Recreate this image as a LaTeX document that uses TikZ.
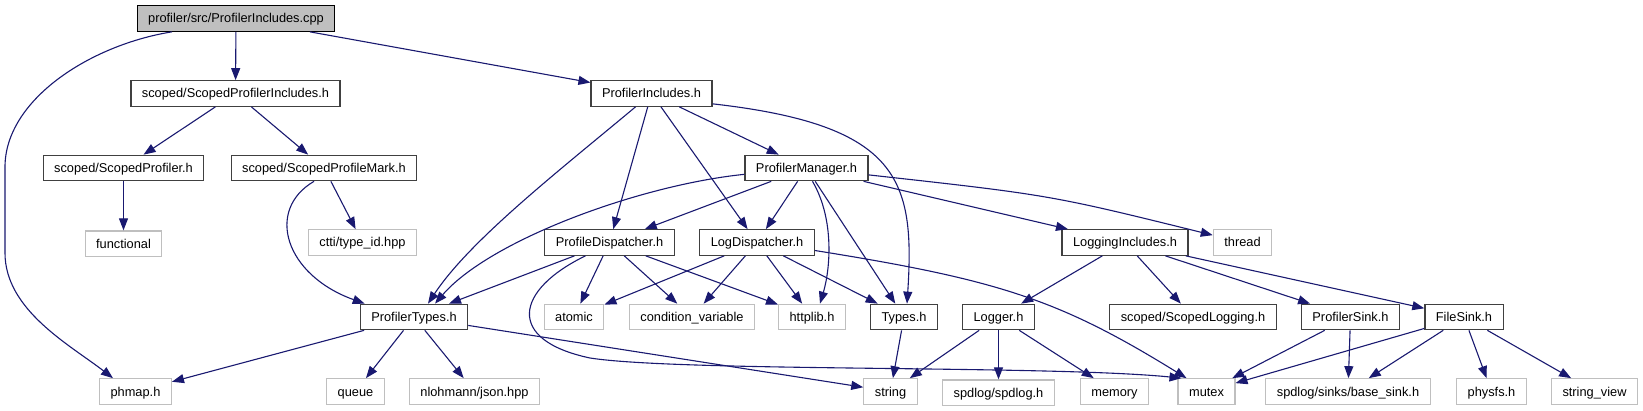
\documentclass[tikz,border=0pt]{standalone}
\usepackage{fontspec}
\setmainfont{Liberation Sans}
\usepackage{tikz}
\usetikzlibrary{arrows.meta,positioning}
\definecolor{edgeblue}{HTML}{191970}
\definecolor{extgrey}{HTML}{BFBFBF}
\definecolor{docframe}{HTML}{404040}
\tikzstyle{docnode} = [rectangle, draw=docframe, line width=1.2pt, fill=white,
inner xsep=11pt, inner ysep=0pt, minimum height=25.5pt, text height=11pt, text depth=2pt]
\tikzstyle{rootnode} = [docnode, draw=black, fill=extgrey]
\tikzstyle{extnode} = [docnode, draw=extgrey]
\tikzstyle{line} = [draw=edgeblue, line width=1.1pt, -{Triangle[length=12pt,width=9pt]}]

\begin{document}
\begin{tikzpicture}[x=1pt, y=-1pt, node distance=49pt, every node/.style={font=\fontsize{12.8}{14}\selectfont}]
\useasboundingbox (0,0) rectangle (1643,411);

% Source file and its direct includes
\node [rootnode] (cpp) at (236,18.5) {profiler/src/ProfilerIncludes.cpp};
\node [docnode] (sinc) at (235.5,93.5) {scoped/ScopedProfilerIncludes.h};
\node [docnode] (pinc) at (651.5,93.5) {ProfilerIncludes.h};

% Third row
\node [docnode] (sprof) at (123.5,168) {scoped/ScopedProfiler.h};
\node [docnode] (smark) at (324,168) {scoped/ScopedProfileMark.h};
\node [docnode] (pman) at (806.5,168) {ProfilerManager.h};

% Fourth row
\node [extnode, below=of sprof] (functional) {functional};
\node [extnode] (ctti) at (362.5,242.5) {ctti/type\_id.hpp};
\node [docnode] (pdisp) at (609.5,242.5) {ProfileDispatcher.h};
\node [docnode] (ldisp) at (757,242.5) {LogDispatcher.h};
\node [docnode] (linc) at (1125,242.5) {LoggingIncludes.h};
\node [extnode] (thread) at (1242.5,242.5) {thread};

% Fifth row
\node [docnode] (ptypes) at (414,317) {ProfilerTypes.h};
\node [extnode] (atomic) at (574,317) {atomic};
\node [extnode] (condvar) at (692,317) {condition\_variable};
\node [extnode] (httplib) at (812,317) {httplib.h};
\node [docnode] (types) at (904,317) {Types.h};
\node [docnode] (logger) at (998.5,317) {Logger.h};
\node [docnode] (slog) at (1193,317) {scoped/ScopedLogging.h};
\node [docnode] (psink) at (1350.5,317) {ProfilerSink.h};
\node [docnode] (fsink) at (1464,317) {FileSink.h};

% System and third party headers
\node [extnode] (phmap) at (135.5,391.5) {phmap.h};
\node [extnode] (queue) at (355.5,391.5) {queue};
\node [extnode] (json) at (474.5,391.5) {nlohmann/json.hpp};
\node [extnode] (string) at (890.5,391.5) {string};
\node [extnode, below=of logger] (spdlog) {spdlog/spdlog.h};
\node [extnode] (memory) at (1114.5,391.5) {memory};
\node [extnode] (mutex) at (1206.5,391.5) {mutex};
\node [extnode] (basesink) at (1348,391.5) {spdlog/sinks/base\_sink.h};
\node [extnode] (physfs) at (1491.5,391.5) {physfs.h};
\node [extnode] (strview) at (1594.5,391.5) {string\_view};

% Edges
\path [line] (cpp) -- (sinc);
\path [line] (cpp) -- (pinc);
\path [line] ([xshift=-64pt]cpp.south) .. controls (90,45) and (5,100) .. (5,167)
-- (5,253) .. controls (5,310) and (70,345) .. ([xshift=14pt]phmap.north west);
\path [line] (sinc) -- (sprof);
\path [line] (sinc) -- (smark);
\path [line] (sprof) -- (functional);
\path [line] (smark) -- (ctti);
\path [line] ([xshift=-10pt]smark.south) .. controls (265,210) and (285,275) .. ([xshift=5pt]ptypes.north west);
\path [line] (pinc) -- (pman);
\path [line] (pinc) -- (pdisp);
\path [line] (pinc) -- (ldisp);
\path [line] (pinc) .. controls (560,170) and (470,240) .. ([xshift=14pt]ptypes.north);
\path [line] ([yshift=3pt]pinc.south east) .. controls (900,125) and (915,180) .. ([xshift=3pt]types.north);
\path [line] (pman) -- (pdisp);
\path [line] (pman) -- (ldisp);
\path [line] (pman) .. controls (640,185) and (490,240) .. ([xshift=21pt]ptypes.north);
\path [line] (pman) -- (linc);
\path [line] (pman) .. controls (1050,195) .. (thread);
\path [line] ([xshift=6pt]pman.south) .. controls (835,220) and (830,270) .. ([xshift=8pt]httplib.north);
\path [line] (pman) -- (types);
\path [line] (pdisp) -- (ptypes);
\path [line] (pdisp) -- (atomic);
\path [line] (pdisp) -- (condvar);
\path [line] (pdisp) -- (httplib);
\path [line] ([xshift=-24pt]pdisp.south) .. controls (515,290) and (505,340) .. (590,358)
.. controls (680,372) and (1050,365) .. ([xshift=-25pt]mutex.north);
\path [line] (ldisp) -- (atomic);
\path [line] (ldisp) -- (condvar);
\path [line] (ldisp) -- (httplib);
\path [line] (ldisp) -- (types);
\path [line] ([yshift=-8pt]ldisp.east) .. controls (1000,280) and (1060,300) .. ([xshift=-20pt]mutex.north);
\path [line] (ptypes) -- (phmap);
\path [line] (ptypes) -- (queue);
\path [line] (ptypes) -- (json);
\path [line] (ptypes) -- (string);
\path [line] (types) -- (string);
\path [line] (logger) -- (string);
\path [line] (logger) -- (spdlog);
\path [line] (logger) -- (memory);
\path [line] (linc) -- (logger);
\path [line] (linc) -- (slog);
\path [line] (linc) -- (psink);
\path [line] (linc) -- (fsink);
\path [line] (psink) -- (mutex);
\path [line] (psink) -- (basesink);
\path [line] (fsink) -- (mutex);
\path [line] (fsink) -- (basesink);
\path [line] (fsink) -- (physfs);
\path [line] (fsink) -- (strview);

\end{tikzpicture}
\end{document}
